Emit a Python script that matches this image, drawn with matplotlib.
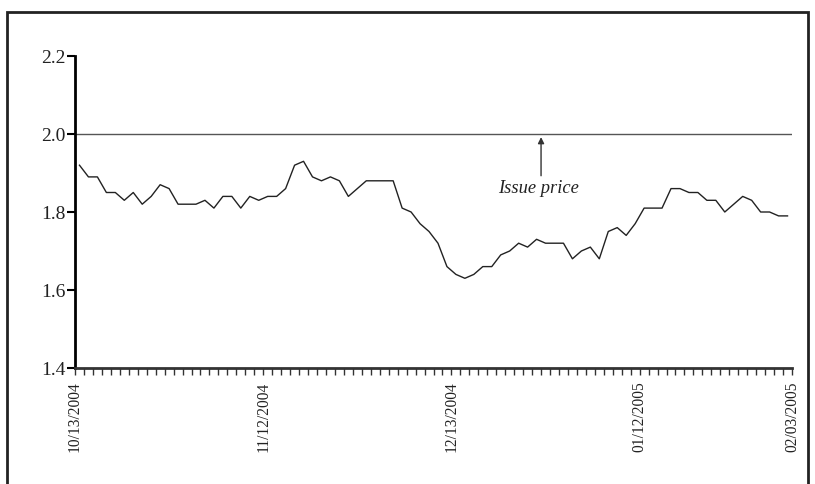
import matplotlib
matplotlib.use("Agg")
import matplotlib.pyplot as plt
from matplotlib.patches import Rectangle

# Data (one point per trading day, 80 points)
prices = [1.92, 1.89, 1.89, 1.85, 1.85, 1.83, 1.85, 1.82, 1.84, 1.87,
          1.86, 1.82, 1.82, 1.82, 1.83, 1.81, 1.84, 1.84, 1.81, 1.84,
          1.83, 1.84, 1.84, 1.86, 1.92, 1.93, 1.89, 1.88, 1.89, 1.88,
          1.84, 1.86, 1.88, 1.88, 1.88, 1.88, 1.81, 1.80, 1.77, 1.75,
          1.72, 1.66, 1.64, 1.63, 1.64, 1.66, 1.66, 1.69, 1.70, 1.72,
          1.71, 1.73, 1.72, 1.72, 1.72, 1.68, 1.70, 1.71, 1.68, 1.75,
          1.76, 1.74, 1.77, 1.81, 1.81, 1.81, 1.86, 1.86, 1.85, 1.85,
          1.83, 1.83, 1.80, 1.82, 1.84, 1.83, 1.80, 1.80, 1.79, 1.79]
date_labels = ["10/13/2004", "11/12/2004", "12/13/2004", "01/12/2005", "02/03/2005"]
date_label_pos = [0, 21, 42, 63, 80]
y_ticks = [1.4, 1.6, 1.8, 2.0, 2.2]
issue_price = 2.0

plt.rcParams['font.family'] = ['Liberation Serif', 'DejaVu Serif']

fig = plt.figure(figsize=(8.15, 4.85), dpi=100)
ax = fig.add_axes([75/815, 1-369/485, (792-75)/815, (369-57)/485])

n = len(prices)
xs = [i + 0.5 for i in range(n)]
ax.plot(xs, prices, color='#222222', lw=1.0)
ax.plot([0, n], [issue_price, issue_price], color='#555555', lw=1.0)

ax.set_xlim(0, n)
ax.set_ylim(1.4, 2.2)

ax.set_yticks(y_ticks)
ax.set_yticklabels([f"{v:.1f}" for v in y_ticks], fontsize=14, color='#222222')
ax.set_xticks(range(0, n + 1), minor=True)
ax.set_xticks(date_label_pos)
ax.set_xticklabels(date_labels, rotation=90, fontsize=11.2, color='#222222')
ax.tick_params(axis='x', which='both', direction='out', length=5, width=1, color='#333333', pad=4)
ax.tick_params(axis='y', direction='out', length=6, width=1.5, pad=1)

for s in ['top', 'right']:
    ax.spines[s].set_visible(False)
ax.spines['left'].set_linewidth(2)
ax.spines['bottom'].set_linewidth(2)
ax.spines['bottom'].set_color('#333333')

# Annotation
ax.annotate("", xy=(52.0, 1.992), xytext=(52.0, 1.893),
            arrowprops=dict(arrowstyle='-|>', color='#333333', lw=1,
                            mutation_scale=9, shrinkA=0, shrinkB=0))
ax.text(51.7, 1.864, "Issue price", ha='center', va='center',
        fontsize=13.3, style='italic', color='#222222')

# outer frame
fig.patches.append(Rectangle((7/815, -0.05), (808-7)/815, 1.05 - 13/485,
                             transform=fig.transFigure, fill=False,
                             edgecolor='#222222', lw=2))

fig.savefig("out.png", dpi=100)
